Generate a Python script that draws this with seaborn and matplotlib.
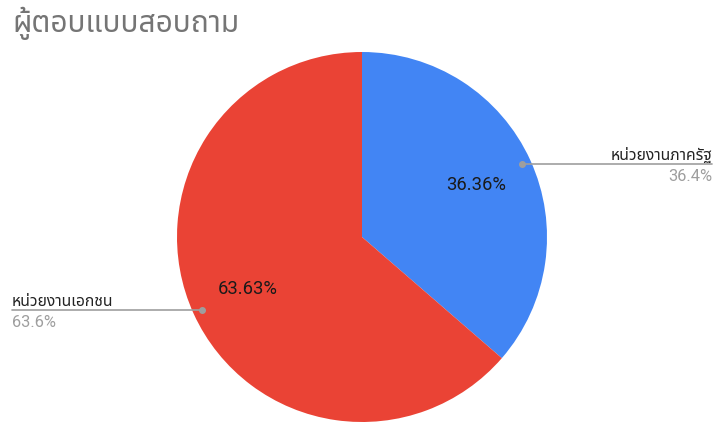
import numpy as np
import matplotlib
matplotlib.use("Agg")
import matplotlib.pyplot as plt
import seaborn as sns

# Data
categories = ["หน่วยงานภาครัฐ", "หน่วยงานเอกชน"]
values = [36.36, 63.63]
colors = ["#4285F4", "#EA4335"]
title = "ผู้ตอบแบบสอบถาม"

sns.set_theme(style="white")
plt.rcParams['font.family'] = ['Roboto', 'Noto Sans Thai', 'DejaVu Sans']

W, H = 714, 422
fig = plt.figure(figsize=(W / 100, H / 100), dpi=100)

# pie centre (362, 237) px, radius 185 px
cx, cy, r = 362, 237, 185
ax = fig.add_axes([(cx - r) / W, (H - cy - r) / H, 2 * r / W, 2 * r / H])

wedges, texts = ax.pie(values, colors=colors, startangle=90, counterclock=False,
                       radius=1, labels=[f"{v:.2f}%" for v in values], labeldistance=0.68,
                       textprops=dict(color="#1a1a1a", fontsize=13.2, ha="center", va="center"),
                       wedgeprops=dict(linewidth=0))
ax.set_xlim(-1, 1)
ax.set_ylim(-1, 1)
ax.set_aspect("equal")
ax.axis("off")

total = sum(values)
inv = ax.transData.inverted()
x_right = inv.transform(fig.transFigure.transform((712 / W, 0)))[0]
x_left = inv.transform(fig.transFigure.transform((12 / W, 0)))[0]
px = 1 / r  # one pixel in data units

for w, cat, v in zip(wedges, categories, values):
    mid = np.deg2rad((w.theta1 + w.theta2) / 2)
    dx, dy = 0.95 * np.cos(mid), 0.95 * np.sin(mid)
    ax.plot([dx], [dy], "o", color="#9E9E9E", markersize=4, clip_on=False, zorder=5)
    if dx > 0:
        xe, ha = x_right, "right"
    else:
        xe, ha = x_left, "left"
    ax.plot([dx, xe], [dy, dy], color="#9E9E9E", linewidth=1.2, clip_on=False, zorder=4)
    ax.text(xe, dy + 4 * px, cat, ha=ha, va="baseline", fontsize=11.3, color="#222222")
    ax.text(xe, dy - 5 * px, f"{v / total * 100:.1f}%", ha=ha, va="top", fontsize=11.8,
            color="#9E9E9E")

fig.text(12 / W, 1 - 23 / H, title, ha="left", va="center", fontsize=21.5,
         fontweight="bold", color="#757575")

fig.savefig("out.png", dpi=100)
